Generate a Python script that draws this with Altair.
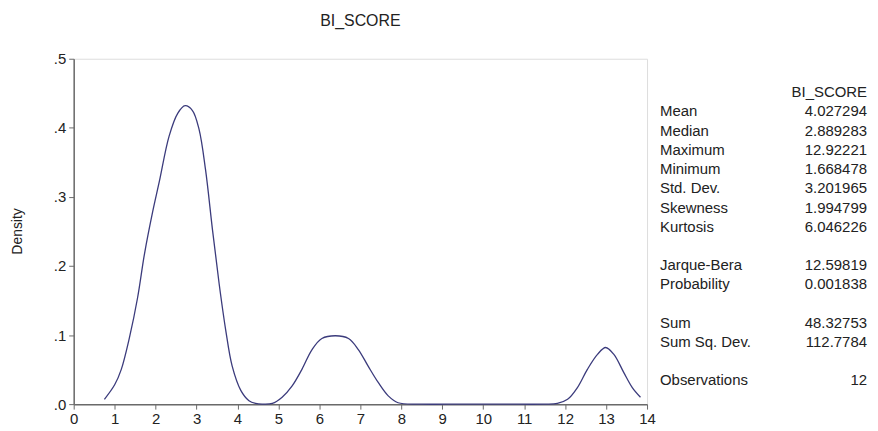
import altair as alt
import pandas as pd

# Kernel density curve of BI_SCORE
xs = [0.75, 1.00, 1.16, 1.36, 1.56, 1.73, 1.93, 2.09, 2.33, 2.54, 2.72, 2.90, 3.06, 3.22,
      3.39, 3.55, 3.71, 3.87, 4.08, 4.28, 4.44, 4.60, 4.85, 5.09, 5.33, 5.57, 5.82, 6.06,
      6.39, 6.71, 6.95, 7.19, 7.44, 7.68, 7.92, 8.50, 9.50, 10.50, 11.50, 11.81, 12.06,
      12.30, 12.54, 12.79, 12.99, 13.19, 13.43, 13.64, 13.84]
ys = [0.007, 0.028, 0.050, 0.096, 0.154, 0.218, 0.279, 0.322, 0.388, 0.421, 0.432, 0.425,
      0.398, 0.339, 0.252, 0.175, 0.108, 0.055, 0.020, 0.005, 0.001, 0.000, 0.001, 0.010,
      0.026, 0.050, 0.079, 0.095, 0.099, 0.095, 0.079, 0.055, 0.031, 0.012, 0.002, 0.000,
      0.000, 0.000, 0.000, 0.001, 0.007, 0.024, 0.050, 0.072, 0.082, 0.072, 0.046, 0.024,
      0.010]

title_text = "BI_SCORE"
y_title = "Density"
x_ticks = list(range(0, 15))
y_ticks = [0.0, 0.1, 0.2, 0.3, 0.4, 0.5]

stat_header = "BI_SCORE"
stat_labels = ["Mean", "Median", "Maximum", "Minimum", "Std. Dev.", "Skewness", "Kurtosis",
               "", "Jarque-Bera", "Probability", "", "Sum", "Sum Sq. Dev.", "", "Observations"]
stat_values = ["4.027294", "2.889283", "12.92221", "1.668478", "3.201965", "1.994799",
               "6.046226", "", "12.59819", "0.001838", "", "48.32753", "112.7784", "", "12"]

W, H = 576, 347
FONT = "Liberation Sans"
GRAY = "#6a6a6a"
TXT = "#222222"

df = pd.DataFrame({"x": xs, "y": ys})

line = alt.Chart(df).mark_line(color="#3b3b7c", strokeWidth=1.3, interpolate="catmull-rom").encode(
    x=alt.X("x:Q", scale=alt.Scale(domain=[0, 14], nice=False, zero=False),
            axis=alt.Axis(values=x_ticks, title=None, grid=False, labelFontSize=15,
                          labelFont=FONT, labelColor=TXT, tickColor=GRAY, domainColor=GRAY,
                          domainWidth=1.5, tickSize=5, labelPadding=2, labelFlush=False)),
    y=alt.Y("y:Q", scale=alt.Scale(domain=[0, 0.5], nice=False),
            axis=alt.Axis(values=y_ticks, title=None, grid=False, labelFontSize=15,
                          labelFont=FONT, labelColor=TXT, tickColor=GRAY, domainColor=GRAY,
                          domainWidth=1.5, tickSize=5, labelPadding=3, labelFlush=False,
                          labelExpr="replace(format(datum.value, '.1f'), '0.', '.')")),
)

layers = [line]

def txt(s, x, y, align="left", size=14, angle=0):
    return alt.Chart(pd.DataFrame({"t": [s]})).mark_text(
        align=align, baseline="middle", font=FONT, fontSize=size, color=TXT, angle=angle
    ).encode(text="t:N", x=alt.value(x), y=alt.value(y))

# title and y-axis title
layers.append(txt(title_text, W / 2, -38, align="center", size=16))
layers.append(txt(y_title, -56, H / 2, align="center", size=14, angle=270))

# statistics panel
label_x = 589
value_x = 797
y0 = 33.7
row_h = 19.3
SFS = 15
layers.append(txt(stat_header, value_x, y0, align="right", size=SFS))
for i, (lab, val) in enumerate(zip(stat_labels, stat_values)):
    if not lab:
        continue
    yy = y0 + (i + 1) * row_h
    layers.append(txt(lab, label_x, yy, align="left", size=SFS))
    layers.append(txt(val, value_x, yy, align="right", size=SFS))

chart = alt.layer(*layers).properties(
    width=W, height=H,
    autosize=alt.AutoSizeParams(type="none"),
    padding={"left": 66, "top": 50, "right": 224, "bottom": 22},
).configure_view(stroke=GRAY, strokeWidth=1.5).configure(background="white")

chart.save("out.html", embed_options={"renderer": "svg", "actions": False})
